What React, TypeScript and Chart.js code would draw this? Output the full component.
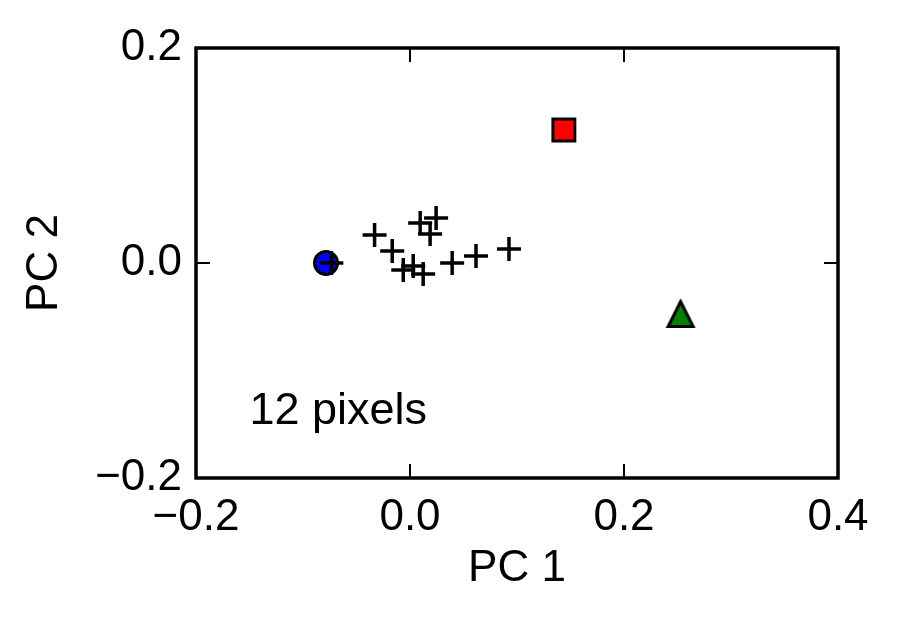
import React, { useEffect, useRef } from 'react';
import { Chart, registerables } from 'chart.js';

Chart.register(...registerables);

// ---- data ----
const pixelX = [-0.0735, -0.0331, -0.0166, -0.0063, 0.003, 0.0123, 0.0095, 0.0188, 0.0244, 0.0394, 0.0617, 0.0925];
const pixelY = [0.0, 0.026, 0.0112, -0.0065, -0.0028, -0.0102, 0.0372, 0.027, 0.0419, 0.0, 0.0065, 0.013];
const circleX = [-0.0785];
const circleY = [0.0];
const squareX = [0.1438];
const squareY = [0.1237];
const triangleX = [0.2529];
const triangleY = [-0.0474];

const xTicks = [-0.2, 0.0, 0.2, 0.4];
const yTicks = [-0.2, 0.0, 0.2];
const xTitle = 'PC 1';
const yTitle = 'PC 2';
const noteText = '12 pixels';
const noteX = -0.15;
const noteY = -0.15;

const FONT = "'Liberation Sans', Arial, Helvetica, sans-serif";
const FS = 44;

function fmt(v: number): string {
  const r = Math.round(v * 10) / 10;
  if (Math.abs(r) < 1e-9) return '0.0';
  return r < 0 ? '\u2212' + Math.abs(r).toFixed(1) : r.toFixed(1);
}

function toPoints(xs: number[], ys: number[]) {
  return xs.map((x, i) => ({ x, y: ys[i] }));
}

function makeTriangle(): HTMLCanvasElement {
  const c = document.createElement('canvas');
  const s = 38;
  c.width = s;
  c.height = s;
  const g = c.getContext('2d')!;
  const h = 12.5;
  const cx = s / 2;
  const cy = s / 2;
  g.beginPath();
  g.moveTo(cx, cy - h);
  g.lineTo(cx - h, cy + h);
  g.lineTo(cx + h, cy + h);
  g.closePath();
  g.fillStyle = '#008000';
  g.fill();
  g.lineWidth = 3;
  g.lineJoin = 'miter';
  g.strokeStyle = '#000';
  g.stroke();
  return c;
}

const framePlugin = {
  id: 'frameTicks',
  afterDraw(chart: any) {
    const { ctx, chartArea: a, scales } = chart;
    const xs = scales.x;
    const ys = scales.y;
    const tl = 14;
    ctx.save();
    ctx.strokeStyle = '#000';
    ctx.lineWidth = 2;
    ctx.beginPath();
    for (const v of xTicks) {
      const px = xs.getPixelForValue(v);
      ctx.moveTo(px, a.bottom);
      ctx.lineTo(px, a.bottom - tl);
      ctx.moveTo(px, a.top);
      ctx.lineTo(px, a.top + tl);
    }
    for (const v of yTicks) {
      const py = ys.getPixelForValue(v);
      ctx.moveTo(a.left, py);
      ctx.lineTo(a.left + tl, py);
      ctx.moveTo(a.right, py);
      ctx.lineTo(a.right - tl, py);
    }
    ctx.stroke();
    ctx.lineWidth = 3.5;
    ctx.strokeRect(a.left, a.top, a.right - a.left, a.bottom - a.top);
    ctx.font = `${FS + 1}px ${FONT}`;
    ctx.fillStyle = '#000';
    ctx.textAlign = 'left';
    ctx.textBaseline = 'alphabetic';
    ctx.fillText(noteText, xs.getPixelForValue(noteX), ys.getPixelForValue(noteY));
    ctx.restore();
  },
};

export default function App() {
  const ref = useRef<HTMLCanvasElement | null>(null);

  useEffect(() => {
    if (!ref.current) return;
    const tickFont = { family: FONT, size: FS };
    const chart = new Chart(ref.current, {
      type: 'scatter',
      data: {
        datasets: [
          {
            label: 'pixels',
            data: toPoints(pixelX, pixelY),
            pointStyle: 'cross',
            pointRadius: 12,
            borderColor: '#000',
            borderWidth: 3.5,
            showLine: false,
          },
          {
            label: 'circle',
            data: toPoints(circleX, circleY),
            pointStyle: 'circle',
            pointRadius: 11.5,
            backgroundColor: '#0000ff',
            borderColor: '#000',
            borderWidth: 3,
          },
          {
            label: 'square',
            data: toPoints(squareX, squareY),
            pointStyle: 'rect',
            pointRadius: 15.5,
            backgroundColor: '#ff0000',
            borderColor: '#000',
            borderWidth: 3,
          },
          {
            label: 'triangle',
            data: toPoints(triangleX, triangleY),
            pointStyle: makeTriangle() as any,
            pointRadius: 12,
            backgroundColor: '#008000',
            borderColor: '#000',
            borderWidth: 3,
          },
        ],
      },
      options: {
        responsive: false,
        animation: false,
        layout: { padding: { left: 0, top: 48, right: 61, bottom: 0 } },
        plugins: {
          legend: { display: false },
          tooltip: { enabled: false },
        },
        scales: {
          x: {
            type: 'linear',
            min: -0.2,
            max: 0.4,
            grid: { display: false, drawTicks: false, tickLength: 0 },
            border: { display: false },
            afterBuildTicks: (s: any) => {
              s.ticks = xTicks.map((v) => ({ value: v }));
            },
            afterFit: (s: any) => {
              s.height = 148;
            },
            ticks: {
              font: tickFont,
              color: '#000',
              padding: 13,
              autoSkip: false,
              maxRotation: 0,
              callback: (v: any) => fmt(Number(v)),
            },
            title: {
              display: true,
              text: xTitle,
              font: tickFont,
              color: '#000',
              padding: { top: 0, bottom: 31 },
            },
          },
          y: {
            type: 'linear',
            min: -0.2,
            max: 0.2,
            grid: { display: false, drawTicks: false, tickLength: 0 },
            border: { display: false },
            afterBuildTicks: (s: any) => {
              s.ticks = yTicks.map((v) => ({ value: v }));
            },
            afterFit: (s: any) => {
              s.width = 196;
            },
            ticks: {
              font: tickFont,
              color: '#000',
              padding: 14,
              autoSkip: false,
              callback: (v: any) => fmt(Number(v)),
            },
            title: {
              display: true,
              text: yTitle,
              font: tickFont,
              color: '#000',
              padding: { top: 18, bottom: 0 },
            },
          },
        },
      },
      plugins: [framePlugin],
    });
    return () => chart.destroy();
  }, []);

  return (
    <div style={{ position: 'absolute', left: 0, top: 0, width: 899, height: 626, background: '#fff' }}>
      <canvas ref={ref} width={899} height={626} style={{ display: 'block' }} />
    </div>
  );
}
